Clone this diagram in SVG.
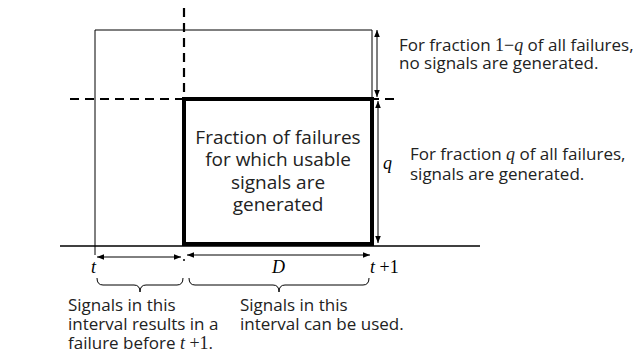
<svg xmlns="http://www.w3.org/2000/svg" width="641" height="356" viewBox="0 0 641 356">
<style>
.t{font-family:"Open Sans","Liberation Sans",sans-serif;font-size:17px;fill:#222}
.c{font-family:"Open Sans","Liberation Sans",sans-serif;font-size:19px;fill:#222;text-anchor:middle}
.m{font-family:"Liberation Serif","DejaVu Serif",serif;font-style:italic;font-size:18px}
.n{font-family:"Liberation Serif","DejaVu Serif",serif;font-style:normal;font-size:18px}
.thin{stroke:#000;stroke-width:1;fill:none}
.dash{stroke:#000;stroke-width:2.2;stroke-dasharray:9,6;fill:none}
.arr{stroke:#000;stroke-width:1;fill:none;marker-start:url(#ah);marker-end:url(#ah)}
</style>
<defs>
<marker id="ah" viewBox="0 0 10 10" refX="10" refY="5" markerWidth="8" markerHeight="7" orient="auto-start-reverse" markerUnits="userSpaceOnUse">
<path d="M0,1 L10,5 L0,9 Z" fill="#000"/>
</marker>
</defs>
<rect width="641" height="356" fill="#fff"/>
<g id="outer">
<polyline class="thin" points="95,255 95,30 372,30 372,99"/>
</g>
<g id="dashes">
<line class="dash" x1="184" y1="8" x2="184" y2="98"/>
<line class="dash" x1="70" y1="99" x2="398" y2="99"/>
</g>
<g id="axis">
<line x1="60" y1="246" x2="480" y2="246" stroke="#000" stroke-width="1.5"/>
</g>
<g id="box">
<rect x="184" y="99" width="188" height="145" fill="none" stroke="#000" stroke-width="4"/>
<text class="c" x="278" y="144">Fraction of failures</text>
<text class="c" x="278" y="166">for which usable</text>
<text class="c" x="278" y="189">signals are</text>
<text class="c" x="278" y="211">generated</text>
</g>
<g id="connectors">
<line class="arr" x1="377" y1="30" x2="377" y2="97"/>
<line class="arr" x1="378" y1="101" x2="378" y2="243"/>
<line class="arr" x1="97" y1="257" x2="181" y2="257"/>
<line class="arr" x1="187" y1="255" x2="370" y2="255"/>
<circle cx="184" cy="260" r="1" fill="#000"/>
<path class="thin" d="M97,278 Q97,285 103,285 L134,285 Q140,285 140,292 Q140,285 146,285 L177,285 Q183,285 183,278"/>
<path class="thin" d="M189,278 Q189,285 195,285 L273,285 Q279,285 279,292 Q279,285 285,285 L363,285 Q369,285 369,278"/>
</g>
<g id="labels">
<text class="m" x="91" y="273">t</text>
<text class="m" x="272" y="273">D</text>
<text class="m" x="370" y="273">t<tspan class="n"> +1</tspan></text>
<text class="m" x="383" y="169">q</text>
<text class="t" x="399" y="51">For fraction <tspan class="n">1−</tspan><tspan class="m">q</tspan> of all failures,</text>
<text class="t" x="399" y="69">no signals are generated.</text>
<text class="t" x="410" y="160">For fraction <tspan class="m">q</tspan> of all failures,</text>
<text class="t" x="410" y="180">signals are generated.</text>
<text class="t" x="68" y="311">Signals in this</text>
<text class="t" x="68" y="330">interval results in a</text>
<text class="t" x="68" y="349">failure before <tspan class="m">t</tspan><tspan class="n"> +1</tspan>.</text>
<text class="t" x="240" y="311">Signals in this</text>
<text class="t" x="240" y="330">interval can be used.</text>
</g>
</svg>
